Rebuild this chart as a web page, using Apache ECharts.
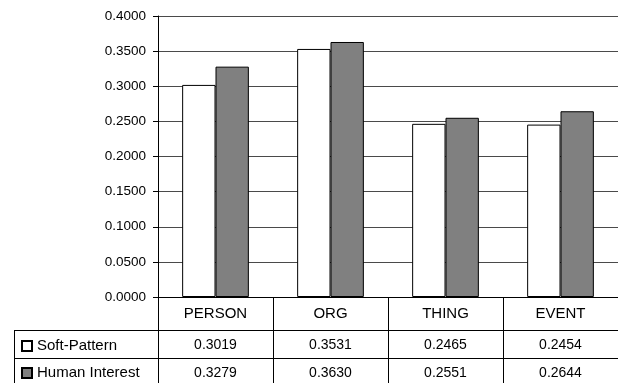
<!DOCTYPE html>
<html>
<head>
<meta charset="utf-8">
<script src="https://cdn.jsdelivr.net/npm/echarts@6/dist/echarts.min.js"></script>
<style>
html,body{margin:0;padding:0;background:#fff;}
#c{width:618px;height:383px;}
</style>
</head>
<body>
<div id="c"></div>
<script>
var categories = ['PERSON', 'ORG', 'THING', 'EVENT'];
var softPattern = [0.3019, 0.3531, 0.2465, 0.2454];
var humanInterest = [0.3279, 0.3630, 0.2551, 0.2644];
var seriesNames = ['Soft-Pattern', 'Human Interest'];
var yTicks = { min: 0, max: 0.4, interval: 0.05 };

var FONT = 'Arial, "Liberation Sans", sans-serif';
var W = 618, H = 383;
var gridLeft = 158, gridTop = 16, gridBottom = 86;
var axisY = H - gridBottom;          // pixel row of the x axis
var headerH = 33, rowH = 28, tableLeft = 14;

var chart = echarts.init(document.getElementById('c'), null, {renderer: 'canvas'});
chart.setOption({
  backgroundColor: '#fff',
  animation: false,
  textStyle: { fontFamily: FONT },
  grid: { left: gridLeft, right: 0, top: gridTop, bottom: gridBottom, containLabel: false },
  legend: {
    orient: 'vertical',
    left: tableLeft + 7,
    top: axisY + headerH + 8,
    itemGap: 11,
    itemWidth: 10,
    itemHeight: 10,
    icon: 'rect',
    padding: 0,
    textStyle: { fontFamily: FONT, fontSize: 15, lineHeight: 16, color: '#000' },
    data: seriesNames
  },
  xAxis: {
    type: 'category',
    data: categories,
    boundaryGap: true,
    axisLine: { show: true, lineStyle: { color: '#000', width: 1 } },
    axisTick: { show: true, interval: 0, length: 95, lineStyle: { color: '#000', width: 1 } },
    axisLabel: {
      interval: 0,
      margin: 0,
      color: '#000',
      formatter: function (v, i) {
        return '{h|' + v + '}\n{v|' + softPattern[i].toFixed(4) + '}\n{v|' + humanInterest[i].toFixed(4) + '}';
      },
      rich: {
        h: { fontFamily: FONT, fontSize: 15, lineHeight: headerH, color: '#000' },
        v: { fontFamily: FONT, fontSize: 14, lineHeight: rowH, color: '#000', padding: [2, 0, 0, 0] }
      }
    },
    splitLine: { show: false }
  },
  yAxis: {
    type: 'value',
    min: yTicks.min,
    max: yTicks.max,
    interval: yTicks.interval,
    axisLine: { show: true, lineStyle: { color: '#000', width: 1 } },
    axisTick: { show: true, length: 5, lineStyle: { color: '#000' } },
    axisLabel: {
      margin: 12,
      color: '#000',
      fontFamily: FONT,
      fontSize: 13.5,
      formatter: function (v) { return v.toFixed(4); }
    },
    splitLine: { show: true, lineStyle: { color: '#4a4a4a', width: 1.2 } }
  },
  series: [
    {
      name: seriesNames[0],
      type: 'bar',
      data: softPattern,
      barGap: '0%',
      barCategoryGap: '42%',
      itemStyle: { color: '#ffffff', borderColor: '#000', borderWidth: 1 }
    },
    {
      name: seriesNames[1],
      type: 'bar',
      data: humanInterest,
      barGap: '0%',
      barCategoryGap: '42%',
      itemStyle: { color: '#808080', borderColor: '#000', borderWidth: 1 }
    }
  ],
  graphic: [
    { type: 'line', silent: true, shape: { x1: tableLeft, y1: axisY + headerH + 0.5, x2: W, y2: axisY + headerH + 0.5 }, style: { stroke: '#000', lineWidth: 1 } },
    { type: 'line', silent: true, shape: { x1: tableLeft, y1: axisY + headerH + rowH + 0.5, x2: W, y2: axisY + headerH + rowH + 0.5 }, style: { stroke: '#000', lineWidth: 1 } },
    { type: 'line', silent: true, shape: { x1: tableLeft + 0.5, y1: axisY + headerH, x2: tableLeft + 0.5, y2: H }, style: { stroke: '#000', lineWidth: 1 } }
  ]
});
</script>
</body>
</html>
